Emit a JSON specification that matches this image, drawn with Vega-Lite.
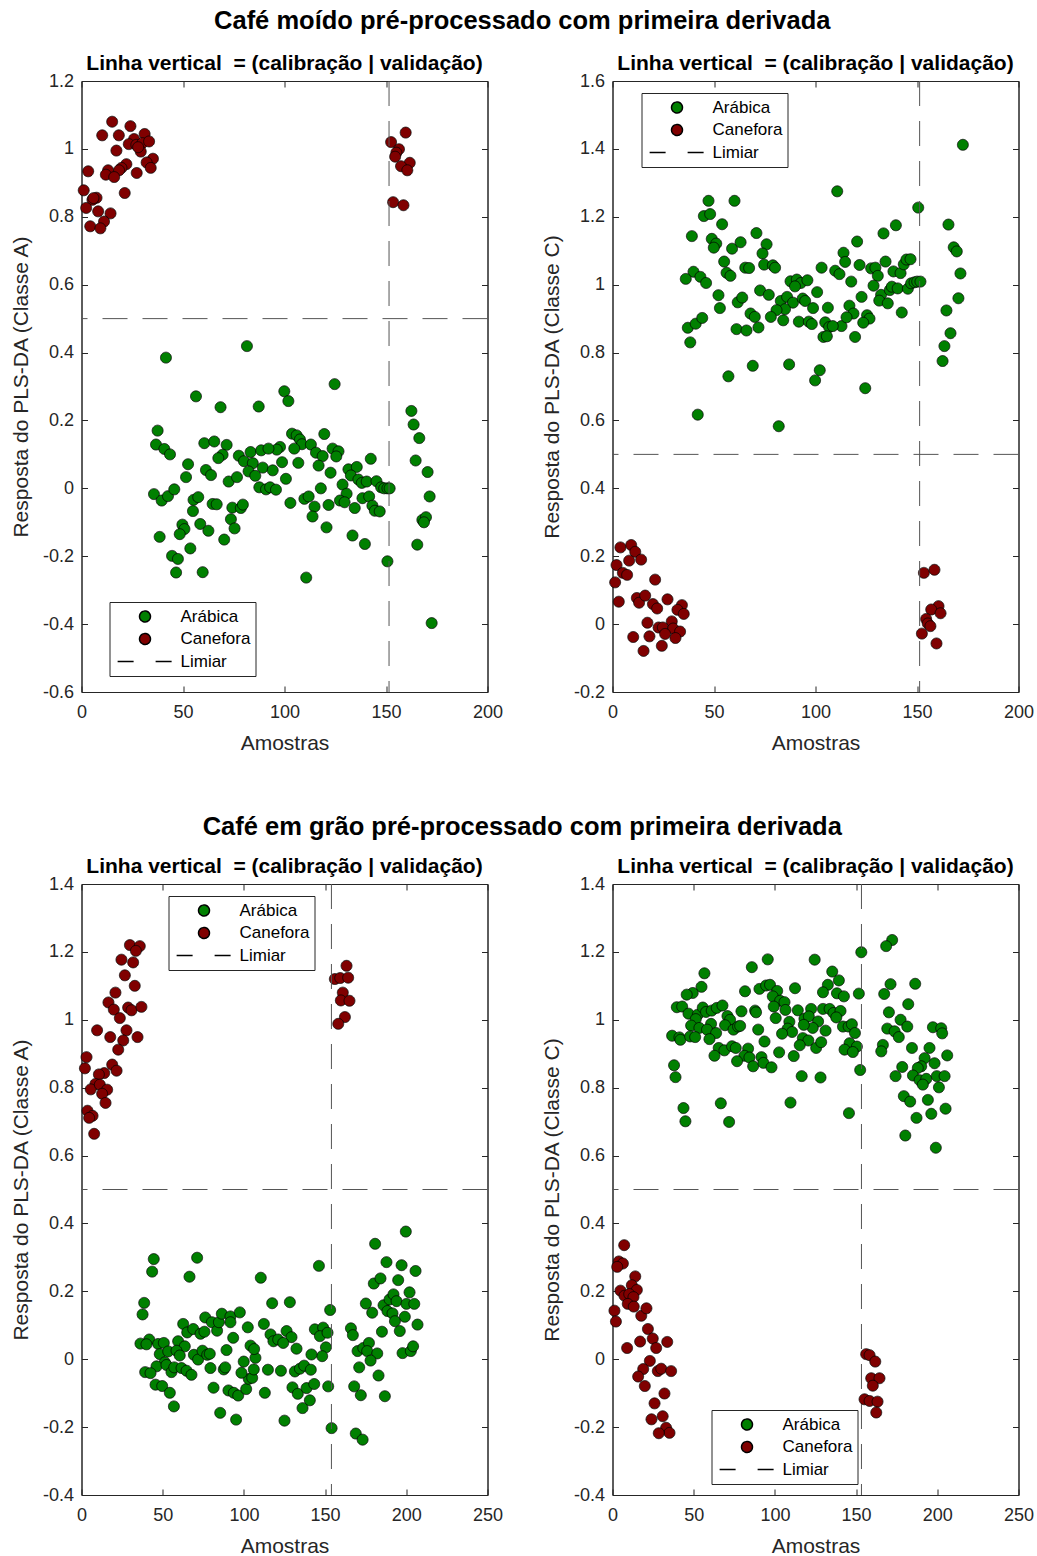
{
  "$schema": "https://vega.github.io/schema/vega-lite/v6.json",
  "background": "white",
  "padding": {"left": 9.5, "top": 9, "right": 0, "bottom": 0},
  "datasets": {
    "moido_A": [
      {"x":81.5,"y":0.419,"classe":"A"},{"x":41.6,"y":0.385,"classe":"A"},{"x":56.4,"y":0.271,"classe":"A"},{"x":68.5,"y":0.239,"classe":"A"},{"x":37.5,"y":0.170,"classe":"A"},{"x":36.7,"y":0.129,"classe":"A"},{"x":40.8,"y":0.116,"classe":"A"},{"x":43.6,"y":0.100,"classe":"A"},{"x":60.5,"y":0.133,"classe":"A"},{"x":65.4,"y":0.138,"classe":"A"},{"x":71.5,"y":0.128,"classe":"A"},{"x":69.5,"y":0.099,"classe":"A"},{"x":67.4,"y":0.089,"classe":"A"},{"x":77.5,"y":0.096,"classe":"A"},{"x":83.3,"y":0.107,"classe":"A"},{"x":80.0,"y":0.080,"classe":"A"},{"x":84.4,"y":0.074,"classe":"A"},{"x":82.3,"y":0.050,"classe":"A"},{"x":85.6,"y":0.037,"classe":"A"},{"x":88.5,"y":0.112,"classe":"A"},{"x":52.5,"y":0.071,"classe":"A"},{"x":51.5,"y":0.033,"classe":"A"},{"x":61.3,"y":0.054,"classe":"A"},{"x":63.8,"y":0.039,"classe":"A"},{"x":72.5,"y":0.020,"classe":"A"},{"x":76.6,"y":0.033,"classe":"A"},{"x":35.7,"y":-0.017,"classe":"A"},{"x":39.5,"y":-0.036,"classe":"A"},{"x":42.6,"y":-0.023,"classe":"A"},{"x":45.7,"y":-0.003,"classe":"A"},{"x":55.2,"y":-0.034,"classe":"A"},{"x":57.5,"y":-0.026,"classe":"A"},{"x":54.9,"y":-0.067,"classe":"A"},{"x":64.6,"y":-0.046,"classe":"A"},{"x":66.6,"y":-0.047,"classe":"A"},{"x":74.3,"y":-0.057,"classe":"A"},{"x":78.5,"y":-0.058,"classe":"A"},{"x":79.5,"y":-0.048,"classe":"A"},{"x":73.6,"y":-0.091,"classe":"A"},{"x":75.4,"y":-0.118,"classe":"A"},{"x":49.7,"y":-0.107,"classe":"A"},{"x":50.7,"y":-0.120,"classe":"A"},{"x":48.4,"y":-0.135,"classe":"A"},{"x":58.5,"y":-0.105,"classe":"A"},{"x":62.5,"y":-0.125,"classe":"A"},{"x":70.3,"y":-0.151,"classe":"A"},{"x":38.5,"y":-0.143,"classe":"A"},{"x":53.6,"y":-0.177,"classe":"A"},{"x":44.6,"y":-0.199,"classe":"A"},{"x":47.5,"y":-0.208,"classe":"A"},{"x":46.6,"y":-0.248,"classe":"A"},{"x":59.7,"y":-0.247,"classe":"A"},
      {"x":124.7,"y":0.307,"classe":"A"},{"x":99.9,"y":0.286,"classe":"A"},{"x":101.9,"y":0.257,"classe":"A"},{"x":87.3,"y":0.241,"classe":"A"},{"x":162.5,"y":0.228,"classe":"A"},{"x":163.6,"y":0.188,"classe":"A"},{"x":166.4,"y":0.148,"classe":"A"},{"x":119.6,"y":0.160,"classe":"A"},{"x":103.7,"y":0.161,"classe":"A"},{"x":106.0,"y":0.156,"classe":"A"},{"x":107.6,"y":0.144,"classe":"A"},{"x":108.6,"y":0.130,"classe":"A"},{"x":113.0,"y":0.129,"classe":"A"},{"x":115.5,"y":0.105,"classe":"A"},{"x":118.8,"y":0.095,"classe":"A"},{"x":123.7,"y":0.117,"classe":"A"},{"x":126.6,"y":0.109,"classe":"A"},{"x":125.5,"y":0.094,"classe":"A"},{"x":104.8,"y":0.117,"classe":"A"},{"x":97.8,"y":0.122,"classe":"A"},{"x":96.2,"y":0.114,"classe":"A"},{"x":92.1,"y":0.117,"classe":"A"},{"x":98.8,"y":0.077,"classe":"A"},{"x":106.8,"y":0.075,"classe":"A"},{"x":116.8,"y":0.067,"classe":"A"},{"x":122.7,"y":0.046,"classe":"A"},{"x":89.3,"y":0.061,"classe":"A"},{"x":94.2,"y":0.053,"classe":"A"},{"x":100.7,"y":0.028,"classe":"A"},{"x":87.6,"y":0.003,"classe":"A"},{"x":90.9,"y":-0.003,"classe":"A"},{"x":92.9,"y":0.003,"classe":"A"},{"x":95.8,"y":-0.004,"classe":"A"},{"x":102.9,"y":-0.043,"classe":"A"},{"x":109.8,"y":-0.031,"classe":"A"},{"x":111.9,"y":-0.024,"classe":"A"},{"x":114.8,"y":-0.054,"classe":"A"},{"x":113.8,"y":-0.083,"classe":"A"},{"x":117.9,"y":0.000,"classe":"A"},{"x":121.7,"y":-0.049,"classe":"A"},{"x":120.7,"y":-0.115,"classe":"A"},{"x":128.6,"y":0.011,"classe":"A"},{"x":130.6,"y":-0.016,"classe":"A"},{"x":127.3,"y":-0.036,"classe":"A"},{"x":129.6,"y":-0.041,"classe":"A"},{"x":131.5,"y":0.056,"classe":"A"},{"x":135.6,"y":0.063,"classe":"A"},{"x":132.7,"y":0.038,"classe":"A"},{"x":136.4,"y":0.026,"classe":"A"},{"x":138.1,"y":0.016,"classe":"A"},{"x":140.5,"y":0.020,"classe":"A"},{"x":142.5,"y":0.087,"classe":"A"},{"x":145.3,"y":0.021,"classe":"A"},{"x":147.6,"y":0.003,"classe":"A"},{"x":149.1,"y":0.000,"classe":"A"},{"x":150.7,"y":0.000,"classe":"A"},{"x":151.8,"y":0.000,"classe":"A"},{"x":134.6,"y":-0.058,"classe":"A"},{"x":138.4,"y":-0.029,"classe":"A"},{"x":141.7,"y":-0.024,"classe":"A"},{"x":143.3,"y":-0.051,"classe":"A"},{"x":144.5,"y":-0.066,"classe":"A"},{"x":146.9,"y":-0.068,"classe":"A"},{"x":133.5,"y":-0.139,"classe":"A"},{"x":139.6,"y":-0.164,"classe":"A"},{"x":150.7,"y":-0.215,"classe":"A"},{"x":110.7,"y":-0.263,"classe":"A"},{"x":164.6,"y":0.082,"classe":"A"},{"x":170.5,"y":0.048,"classe":"A"},{"x":171.5,"y":-0.024,"classe":"A"},{"x":167.9,"y":-0.093,"classe":"A"},{"x":169.7,"y":-0.085,"classe":"A"},{"x":168.7,"y":-0.100,"classe":"A"},{"x":165.4,"y":-0.166,"classe":"A"},{"x":172.5,"y":-0.397,"classe":"A"},
      {"x":15.1,"y":1.080,"classe":"C"},{"x":24.1,"y":1.067,"classe":"C"},{"x":10.2,"y":1.040,"classe":"C"},{"x":18.4,"y":1.040,"classe":"C"},{"x":31.1,"y":1.044,"classe":"C"},{"x":25.9,"y":1.029,"classe":"C"},{"x":23.3,"y":1.014,"classe":"C"},{"x":27.0,"y":1.012,"classe":"C"},{"x":30.0,"y":1.017,"classe":"C"},{"x":33.3,"y":1.022,"classe":"C"},{"x":29.2,"y":0.992,"classe":"C"},{"x":17.2,"y":0.995,"classe":"C"},{"x":27.9,"y":1.005,"classe":"C"},{"x":35.2,"y":0.971,"classe":"C"},{"x":32.1,"y":0.960,"classe":"C"},{"x":34.1,"y":0.944,"classe":"C"},{"x":22.1,"y":0.955,"classe":"C"},{"x":19.7,"y":0.944,"classe":"C"},{"x":18.5,"y":0.937,"classe":"C"},{"x":13.1,"y":0.937,"classe":"C"},{"x":12.0,"y":0.924,"classe":"C"},{"x":16.1,"y":0.917,"classe":"C"},{"x":27.2,"y":0.929,"classe":"C"},{"x":3.3,"y":0.934,"classe":"C"},{"x":1.1,"y":0.878,"classe":"C"},{"x":21.3,"y":0.870,"classe":"C"},{"x":7.4,"y":0.856,"classe":"C"},{"x":5.4,"y":0.850,"classe":"C"},{"x":5.9,"y":0.855,"classe":"C"},{"x":2.3,"y":0.826,"classe":"C"},{"x":8.2,"y":0.816,"classe":"C"},{"x":14.3,"y":0.810,"classe":"C"},{"x":11.1,"y":0.786,"classe":"C"},{"x":4.3,"y":0.772,"classe":"C"},{"x":9.3,"y":0.766,"classe":"C"},
      {"x":159.7,"y":1.048,"classe":"C"},{"x":152.5,"y":1.020,"classe":"C"},{"x":156.4,"y":0.999,"classe":"C"},{"x":155.1,"y":0.989,"classe":"C"},{"x":154.5,"y":0.977,"classe":"C"},{"x":161.7,"y":0.959,"classe":"C"},{"x":157.4,"y":0.949,"classe":"C"},{"x":160.5,"y":0.937,"classe":"C"},{"x":153.5,"y":0.843,"classe":"C"},{"x":158.6,"y":0.834,"classe":"C"}
    ],
    "moido_C": [
      {"x":47.3,"y":1.247,"classe":"A"},{"x":60.1,"y":1.247,"classe":"A"},{"x":45.0,"y":1.202,"classe":"A"},{"x":48.1,"y":1.208,"classe":"A"},{"x":54.0,"y":1.178,"classe":"A"},{"x":39.1,"y":1.143,"classe":"A"},{"x":70.9,"y":1.152,"classe":"A"},{"x":48.9,"y":1.135,"classe":"A"},{"x":51.1,"y":1.121,"classe":"A"},{"x":49.9,"y":1.109,"classe":"A"},{"x":58.9,"y":1.106,"classe":"A"},{"x":63.1,"y":1.125,"classe":"A"},{"x":75.9,"y":1.119,"classe":"A"},{"x":73.9,"y":1.092,"classe":"A"},{"x":55.0,"y":1.068,"classe":"A"},{"x":56.2,"y":1.035,"classe":"A"},{"x":58.1,"y":1.026,"classe":"A"},{"x":65.4,"y":1.050,"classe":"A"},{"x":67.3,"y":1.049,"classe":"A"},{"x":74.7,"y":1.059,"classe":"A"},{"x":79.0,"y":1.057,"classe":"A"},{"x":80.1,"y":1.050,"classe":"A"},{"x":103.0,"y":1.050,"classe":"A"},{"x":39.9,"y":1.038,"classe":"A"},{"x":36.1,"y":1.017,"classe":"A"},{"x":43.3,"y":1.023,"classe":"A"},{"x":46.1,"y":1.005,"classe":"A"},{"x":52.2,"y":0.969,"classe":"A"},{"x":52.9,"y":0.931,"classe":"A"},{"x":61.7,"y":0.948,"classe":"A"},{"x":63.9,"y":0.962,"classe":"A"},{"x":72.7,"y":0.983,"classe":"A"},{"x":77.0,"y":0.970,"classe":"A"},{"x":82.9,"y":0.952,"classe":"A"},{"x":86.0,"y":0.964,"classe":"A"},{"x":88.9,"y":0.947,"classe":"A"},{"x":85.0,"y":0.928,"classe":"A"},{"x":80.8,"y":0.925,"classe":"A"},{"x":78.0,"y":0.905,"classe":"A"},{"x":84.1,"y":0.895,"classe":"A"},{"x":87.7,"y":1.010,"classe":"A"},{"x":90.8,"y":1.015,"classe":"A"},{"x":92.8,"y":1.005,"classe":"A"},{"x":96.0,"y":1.013,"classe":"A"},{"x":89.9,"y":0.995,"classe":"A"},{"x":93.7,"y":0.959,"classe":"A"},{"x":94.9,"y":0.952,"classe":"A"},{"x":100.8,"y":0.978,"classe":"A"},{"x":98.8,"y":0.931,"classe":"A"},{"x":106.1,"y":0.932,"classe":"A"},{"x":91.8,"y":0.891,"classe":"A"},{"x":96.7,"y":0.891,"classe":"A"},{"x":98.2,"y":0.884,"classe":"A"},{"x":104.8,"y":0.889,"classe":"A"},{"x":106.7,"y":0.875,"classe":"A"},{"x":103.9,"y":0.846,"classe":"A"},{"x":105.6,"y":0.848,"classe":"A"},{"x":68.0,"y":0.915,"classe":"A"},{"x":70.1,"y":0.905,"classe":"A"},{"x":71.9,"y":0.874,"classe":"A"},{"x":61.1,"y":0.869,"classe":"A"},{"x":66.0,"y":0.865,"classe":"A"},{"x":37.1,"y":0.873,"classe":"A"},{"x":41.0,"y":0.885,"classe":"A"},{"x":44.2,"y":0.902,"classe":"A"},{"x":38.3,"y":0.830,"classe":"A"},{"x":69.1,"y":0.761,"classe":"A"},{"x":87.0,"y":0.765,"classe":"A"},{"x":57.1,"y":0.730,"classe":"A"},{"x":102.1,"y":0.748,"classe":"A"},{"x":99.8,"y":0.718,"classe":"A"},{"x":42.0,"y":0.617,"classe":"A"},{"x":81.9,"y":0.583,"classe":"A"},
      {"x":172.6,"y":1.412,"classe":"A"},{"x":110.7,"y":1.275,"classe":"A"},{"x":150.6,"y":1.227,"classe":"A"},{"x":165.5,"y":1.177,"classe":"A"},{"x":139.6,"y":1.175,"classe":"A"},{"x":133.5,"y":1.151,"classe":"A"},{"x":120.5,"y":1.127,"classe":"A"},{"x":113.8,"y":1.094,"classe":"A"},{"x":114.6,"y":1.067,"classe":"A"},{"x":121.7,"y":1.058,"classe":"A"},{"x":109.7,"y":1.041,"classe":"A"},{"x":111.8,"y":1.031,"classe":"A"},{"x":117.6,"y":1.009,"classe":"A"},{"x":127.4,"y":1.048,"classe":"A"},{"x":129.5,"y":1.050,"classe":"A"},{"x":130.7,"y":1.026,"classe":"A"},{"x":134.5,"y":1.068,"classe":"A"},{"x":138.4,"y":1.039,"classe":"A"},{"x":141.9,"y":1.034,"classe":"A"},{"x":143.5,"y":1.060,"classe":"A"},{"x":144.8,"y":1.074,"classe":"A"},{"x":146.8,"y":1.075,"classe":"A"},{"x":128.6,"y":0.997,"classe":"A"},{"x":132.3,"y":0.970,"classe":"A"},{"x":131.4,"y":0.953,"classe":"A"},{"x":135.6,"y":0.945,"classe":"A"},{"x":136.6,"y":0.984,"classe":"A"},{"x":137.6,"y":0.994,"classe":"A"},{"x":140.5,"y":0.989,"classe":"A"},{"x":145.5,"y":0.988,"classe":"A"},{"x":147.1,"y":1.004,"classe":"A"},{"x":148.8,"y":1.007,"classe":"A"},{"x":150.1,"y":1.009,"classe":"A"},{"x":151.7,"y":1.009,"classe":"A"},{"x":142.5,"y":0.918,"classe":"A"},{"x":122.7,"y":0.964,"classe":"A"},{"x":116.7,"y":0.938,"classe":"A"},{"x":118.7,"y":0.915,"classe":"A"},{"x":125.4,"y":0.910,"classe":"A"},{"x":126.6,"y":0.900,"classe":"A"},{"x":123.5,"y":0.888,"classe":"A"},{"x":112.8,"y":0.878,"classe":"A"},{"x":115.3,"y":0.904,"classe":"A"},{"x":108.5,"y":0.878,"classe":"A"},{"x":119.5,"y":0.846,"classe":"A"},{"x":124.5,"y":0.695,"classe":"A"},{"x":168.1,"y":1.110,"classe":"A"},{"x":169.6,"y":1.098,"classe":"A"},{"x":171.4,"y":1.033,"classe":"A"},{"x":170.4,"y":0.960,"classe":"A"},{"x":164.5,"y":0.924,"classe":"A"},{"x":166.5,"y":0.857,"classe":"A"},{"x":163.5,"y":0.819,"classe":"A"},{"x":162.6,"y":0.775,"classe":"A"},
      {"x":3.9,"y":0.226,"classe":"C"},{"x":9.2,"y":0.233,"classe":"C"},{"x":11.2,"y":0.213,"classe":"C"},{"x":8.2,"y":0.187,"classe":"C"},{"x":14.1,"y":0.190,"classe":"C"},{"x":2.0,"y":0.174,"classe":"C"},{"x":5.1,"y":0.151,"classe":"C"},{"x":7.2,"y":0.145,"classe":"C"},{"x":1.3,"y":0.123,"classe":"C"},{"x":21.0,"y":0.131,"classe":"C"},{"x":3.1,"y":0.066,"classe":"C"},{"x":12.0,"y":0.077,"classe":"C"},{"x":13.1,"y":0.063,"classe":"C"},{"x":16.1,"y":0.084,"classe":"C"},{"x":19.9,"y":0.059,"classe":"C"},{"x":22.0,"y":0.046,"classe":"C"},{"x":27.1,"y":0.073,"classe":"C"},{"x":34.2,"y":0.056,"classe":"C"},{"x":32.0,"y":0.042,"classe":"C"},{"x":35.1,"y":0.030,"classe":"C"},{"x":17.2,"y":0.004,"classe":"C"},{"x":29.2,"y":0.008,"classe":"C"},{"x":22.7,"y":-0.010,"classe":"C"},{"x":24.8,"y":-0.010,"classe":"C"},{"x":29.9,"y":-0.013,"classe":"C"},{"x":33.3,"y":-0.022,"classe":"C"},{"x":25.9,"y":-0.029,"classe":"C"},{"x":31.0,"y":-0.041,"classe":"C"},{"x":10.2,"y":-0.038,"classe":"C"},{"x":18.2,"y":-0.036,"classe":"C"},{"x":24.3,"y":-0.064,"classe":"C"},{"x":15.3,"y":-0.079,"classe":"C"},
      {"x":153.4,"y":0.151,"classe":"C"},{"x":158.6,"y":0.160,"classe":"C"},{"x":160.6,"y":0.053,"classe":"C"},{"x":157.0,"y":0.043,"classe":"C"},{"x":161.6,"y":0.032,"classe":"C"},{"x":154.5,"y":0.015,"classe":"C"},{"x":155.3,"y":0.002,"classe":"C"},{"x":156.6,"y":-0.006,"classe":"C"},{"x":152.4,"y":-0.028,"classe":"C"},{"x":159.6,"y":-0.057,"classe":"C"}
    ],
    "grao_A": [
      {"x":44.5,"y":0.295,"classe":"A"},{"x":71.2,"y":0.299,"classe":"A"},{"x":43.5,"y":0.258,"classe":"A"},{"x":66.5,"y":0.243,"classe":"A"},{"x":38.6,"y":0.166,"classe":"A"},{"x":37.6,"y":0.132,"classe":"A"},{"x":62.6,"y":0.104,"classe":"A"},{"x":65.1,"y":0.079,"classe":"A"},{"x":68.8,"y":0.089,"classe":"A"},{"x":73.3,"y":0.075,"classe":"A"},{"x":75.7,"y":0.081,"classe":"A"},{"x":76.2,"y":0.123,"classe":"A"},{"x":80.3,"y":0.109,"classe":"A"},{"x":83.5,"y":0.084,"classe":"A"},{"x":84.6,"y":0.109,"classe":"A"},{"x":86.4,"y":0.134,"classe":"A"},{"x":91.7,"y":0.126,"classe":"A"},{"x":91.7,"y":0.109,"classe":"A"},{"x":97.5,"y":0.138,"classe":"A"},{"x":102.4,"y":0.094,"classe":"A"},{"x":93.4,"y":0.063,"classe":"A"},{"x":89.3,"y":0.027,"classe":"A"},{"x":36.3,"y":0.046,"classe":"A"},{"x":41.7,"y":0.058,"classe":"A"},{"x":40.0,"y":0.044,"classe":"A"},{"x":47.2,"y":0.045,"classe":"A"},{"x":50.7,"y":0.048,"classe":"A"},{"x":59.5,"y":0.053,"classe":"A"},{"x":63.6,"y":0.038,"classe":"A"},{"x":48.2,"y":0.015,"classe":"A"},{"x":53.4,"y":0.023,"classe":"A"},{"x":58.5,"y":0.025,"classe":"A"},{"x":60.5,"y":0.011,"classe":"A"},{"x":51.3,"y":-0.009,"classe":"A"},{"x":46.2,"y":-0.021,"classe":"A"},{"x":52.3,"y":-0.017,"classe":"A"},{"x":55.4,"y":-0.038,"classe":"A"},{"x":57.1,"y":-0.024,"classe":"A"},{"x":61.6,"y":-0.026,"classe":"A"},{"x":64.7,"y":-0.034,"classe":"A"},{"x":67.7,"y":-0.046,"classe":"A"},{"x":69.2,"y":0.013,"classe":"A"},{"x":71.8,"y":-0.001,"classe":"A"},{"x":74.5,"y":0.025,"classe":"A"},{"x":77.4,"y":0.013,"classe":"A"},{"x":79.0,"y":0.016,"classe":"A"},{"x":79.4,"y":-0.026,"classe":"A"},{"x":87.6,"y":-0.030,"classe":"A"},{"x":88.5,"y":-0.024,"classe":"A"},{"x":39.2,"y":-0.038,"classe":"A"},{"x":42.5,"y":-0.041,"classe":"A"},{"x":45.6,"y":-0.075,"classe":"A"},{"x":49.7,"y":-0.079,"classe":"A"},{"x":54.4,"y":-0.099,"classe":"A"},{"x":56.9,"y":-0.139,"classe":"A"},{"x":81.3,"y":-0.084,"classe":"A"},{"x":90.5,"y":-0.092,"classe":"A"},{"x":93.8,"y":-0.099,"classe":"A"},{"x":96.5,"y":-0.107,"classe":"A"},{"x":101.4,"y":-0.088,"classe":"A"},{"x":103.0,"y":-0.058,"classe":"A"},{"x":105.1,"y":-0.055,"classe":"A"},{"x":106.1,"y":-0.030,"classe":"A"},{"x":99.9,"y":-0.007,"classe":"A"},{"x":98.5,"y":-0.040,"classe":"A"},{"x":107.1,"y":0.004,"classe":"A"},{"x":104.1,"y":0.040,"classe":"A"},{"x":106.3,"y":0.030,"classe":"A"},{"x":85.4,"y":-0.158,"classe":"A"},{"x":95.2,"y":-0.178,"classe":"A"},
      {"x":199.7,"y":0.376,"classe":"A"},{"x":180.8,"y":0.340,"classe":"A"},{"x":146.2,"y":0.275,"classe":"A"},{"x":110.4,"y":0.240,"classe":"A"},{"x":187.8,"y":0.286,"classe":"A"},{"x":197.1,"y":0.277,"classe":"A"},{"x":205.7,"y":0.260,"classe":"A"},{"x":180.0,"y":0.223,"classe":"A"},{"x":184.1,"y":0.238,"classe":"A"},{"x":195.0,"y":0.233,"classe":"A"},{"x":202.0,"y":0.197,"classe":"A"},{"x":117.4,"y":0.165,"classe":"A"},{"x":128.3,"y":0.168,"classe":"A"},{"x":153.1,"y":0.145,"classe":"A"},{"x":175.1,"y":0.164,"classe":"A"},{"x":179.0,"y":0.137,"classe":"A"},{"x":186.0,"y":0.159,"classe":"A"},{"x":189.7,"y":0.176,"classe":"A"},{"x":192.1,"y":0.191,"classe":"A"},{"x":194.0,"y":0.171,"classe":"A"},{"x":200.1,"y":0.163,"classe":"A"},{"x":204.9,"y":0.163,"classe":"A"},{"x":188.4,"y":0.142,"classe":"A"},{"x":191.5,"y":0.135,"classe":"A"},{"x":199.1,"y":0.125,"classe":"A"},{"x":193.0,"y":0.112,"classe":"A"},{"x":206.9,"y":0.102,"classe":"A"},{"x":196.0,"y":0.083,"classe":"A"},{"x":185.0,"y":0.081,"classe":"A"},{"x":112.3,"y":0.104,"classe":"A"},{"x":116.4,"y":0.073,"classe":"A"},{"x":126.3,"y":0.083,"classe":"A"},{"x":129.3,"y":0.065,"classe":"A"},{"x":118.2,"y":0.053,"classe":"A"},{"x":121.1,"y":0.058,"classe":"A"},{"x":132.4,"y":0.031,"classe":"A"},{"x":124.2,"y":0.048,"classe":"A"},{"x":143.7,"y":0.088,"classe":"A"},{"x":148.8,"y":0.093,"classe":"A"},{"x":146.8,"y":0.068,"classe":"A"},{"x":151.5,"y":0.078,"classe":"A"},{"x":150.5,"y":0.035,"classe":"A"},{"x":148.2,"y":0.009,"classe":"A"},{"x":141.6,"y":0.014,"classe":"A"},{"x":165.9,"y":0.091,"classe":"A"},{"x":167.1,"y":0.071,"classe":"A"},{"x":170.0,"y":0.024,"classe":"A"},{"x":173.5,"y":0.033,"classe":"A"},{"x":177.0,"y":0.048,"classe":"A"},{"x":175.9,"y":0.024,"classe":"A"},{"x":182.1,"y":0.017,"classe":"A"},{"x":178.0,"y":-0.004,"classe":"A"},{"x":171.0,"y":-0.024,"classe":"A"},{"x":197.7,"y":0.018,"classe":"A"},{"x":202.8,"y":0.024,"classe":"A"},{"x":204.2,"y":0.038,"classe":"A"},{"x":114.8,"y":-0.031,"classe":"A"},{"x":122.8,"y":-0.034,"classe":"A"},{"x":131.4,"y":-0.036,"classe":"A"},{"x":134.5,"y":-0.028,"classe":"A"},{"x":137.1,"y":-0.019,"classe":"A"},{"x":141.2,"y":-0.031,"classe":"A"},{"x":182.9,"y":-0.048,"classe":"A"},{"x":112.9,"y":-0.099,"classe":"A"},{"x":129.9,"y":-0.083,"classe":"A"},{"x":133.2,"y":-0.102,"classe":"A"},{"x":138.6,"y":-0.085,"classe":"A"},{"x":143.3,"y":-0.073,"classe":"A"},{"x":151.9,"y":-0.080,"classe":"A"},{"x":140.6,"y":-0.121,"classe":"A"},{"x":136.1,"y":-0.144,"classe":"A"},{"x":167.9,"y":-0.080,"classe":"A"},{"x":172.0,"y":-0.106,"classe":"A"},{"x":186.8,"y":-0.109,"classe":"A"},{"x":125.0,"y":-0.181,"classe":"A"},{"x":154.0,"y":-0.203,"classe":"A"},{"x":168.9,"y":-0.219,"classe":"A"},{"x":173.1,"y":-0.237,"classe":"A"},
      {"x":29.8,"y":1.220,"classe":"C"},{"x":35.9,"y":1.217,"classe":"C"},{"x":33.5,"y":1.203,"classe":"C"},{"x":24.6,"y":1.177,"classe":"C"},{"x":31.8,"y":1.169,"classe":"C"},{"x":26.7,"y":1.131,"classe":"C"},{"x":32.8,"y":1.100,"classe":"C"},{"x":20.9,"y":1.080,"classe":"C"},{"x":16.6,"y":1.051,"classe":"C"},{"x":19.9,"y":1.030,"classe":"C"},{"x":28.7,"y":1.036,"classe":"C"},{"x":30.8,"y":1.028,"classe":"C"},{"x":36.9,"y":1.038,"classe":"C"},{"x":23.6,"y":1.005,"classe":"C"},{"x":9.6,"y":0.969,"classe":"C"},{"x":17.7,"y":0.949,"classe":"C"},{"x":27.7,"y":0.969,"classe":"C"},{"x":25.7,"y":0.939,"classe":"C"},{"x":34.5,"y":0.949,"classe":"C"},{"x":22.6,"y":0.912,"classe":"C"},{"x":3.1,"y":0.890,"classe":"C"},{"x":2.1,"y":0.857,"classe":"C"},{"x":18.9,"y":0.868,"classe":"C"},{"x":21.6,"y":0.850,"classe":"C"},{"x":14.0,"y":0.843,"classe":"C"},{"x":10.7,"y":0.839,"classe":"C"},{"x":8.6,"y":0.811,"classe":"C"},{"x":5.7,"y":0.795,"classe":"C"},{"x":11.3,"y":0.809,"classe":"C"},{"x":15.8,"y":0.794,"classe":"C"},{"x":12.7,"y":0.782,"classe":"C"},{"x":14.8,"y":0.755,"classe":"C"},{"x":3.7,"y":0.732,"classe":"C"},{"x":6.8,"y":0.717,"classe":"C"},{"x":4.7,"y":0.711,"classe":"C"},{"x":7.8,"y":0.664,"classe":"C"},
      {"x":163.2,"y":1.159,"classe":"C"},{"x":156.0,"y":1.120,"classe":"C"},{"x":159.3,"y":1.123,"classe":"C"},{"x":164.2,"y":1.124,"classe":"C"},{"x":160.9,"y":1.080,"classe":"C"},{"x":159.7,"y":1.057,"classe":"C"},{"x":165.0,"y":1.056,"classe":"C"},{"x":162.2,"y":1.008,"classe":"C"},{"x":158.1,"y":0.988,"classe":"C"}
    ],
    "grao_C": [
      {"x":56.6,"y":1.137,"classe":"A"},{"x":54.8,"y":1.097,"classe":"A"},{"x":49.4,"y":1.079,"classe":"A"},{"x":45.7,"y":1.074,"classe":"A"},{"x":85.8,"y":1.155,"classe":"A"},{"x":95.6,"y":1.178,"classe":"A"},{"x":124.5,"y":1.177,"classe":"A"},{"x":81.6,"y":1.084,"classe":"A"},{"x":90.5,"y":1.091,"classe":"A"},{"x":94.6,"y":1.101,"classe":"A"},{"x":97.0,"y":1.103,"classe":"A"},{"x":101.4,"y":1.085,"classe":"A"},{"x":112.4,"y":1.093,"classe":"A"},{"x":98.7,"y":1.069,"classe":"A"},{"x":103.2,"y":1.056,"classe":"A"},{"x":105.9,"y":1.052,"classe":"A"},{"x":99.3,"y":1.039,"classe":"A"},{"x":106.5,"y":1.029,"classe":"A"},{"x":114.1,"y":1.028,"classe":"A"},{"x":122.3,"y":1.032,"classe":"A"},{"x":39.6,"y":1.037,"classe":"A"},{"x":42.9,"y":1.039,"classe":"A"},{"x":46.8,"y":1.018,"classe":"A"},{"x":52.5,"y":1.015,"classe":"A"},{"x":55.6,"y":1.036,"classe":"A"},{"x":57.6,"y":1.023,"classe":"A"},{"x":61.1,"y":1.027,"classe":"A"},{"x":64.2,"y":1.035,"classe":"A"},{"x":67.7,"y":1.042,"classe":"A"},{"x":70.8,"y":1.011,"classe":"A"},{"x":72.4,"y":1.000,"classe":"A"},{"x":79.4,"y":1.025,"classe":"A"},{"x":87.8,"y":1.027,"classe":"A"},{"x":88.4,"y":1.022,"classe":"A"},{"x":51.3,"y":1.002,"classe":"A"},{"x":48.4,"y":0.983,"classe":"A"},{"x":53.5,"y":0.976,"classe":"A"},{"x":60.7,"y":0.988,"classe":"A"},{"x":58.2,"y":0.971,"classe":"A"},{"x":63.8,"y":0.961,"classe":"A"},{"x":69.3,"y":0.984,"classe":"A"},{"x":74.5,"y":0.971,"classe":"A"},{"x":77.3,"y":0.980,"classe":"A"},{"x":78.6,"y":0.982,"classe":"A"},{"x":89.7,"y":0.971,"classe":"A"},{"x":100.5,"y":1.005,"classe":"A"},{"x":108.9,"y":0.994,"classe":"A"},{"x":107.9,"y":0.974,"classe":"A"},{"x":110.6,"y":0.964,"classe":"A"},{"x":104.4,"y":0.959,"classe":"A"},{"x":118.2,"y":1.003,"classe":"A"},{"x":120.9,"y":1.010,"classe":"A"},{"x":126.6,"y":0.995,"classe":"A"},{"x":123.3,"y":0.976,"classe":"A"},{"x":117.8,"y":0.985,"classe":"A"},{"x":36.7,"y":0.953,"classe":"A"},{"x":41.2,"y":0.948,"classe":"A"},{"x":41.8,"y":0.941,"classe":"A"},{"x":47.8,"y":0.951,"classe":"A"},{"x":50.9,"y":0.949,"classe":"A"},{"x":59.7,"y":0.943,"classe":"A"},{"x":93.6,"y":0.936,"classe":"A"},{"x":117.2,"y":0.946,"classe":"A"},{"x":120.6,"y":0.939,"classe":"A"},{"x":115.3,"y":0.925,"classe":"A"},{"x":125.4,"y":0.917,"classe":"A"},{"x":65.4,"y":0.917,"classe":"A"},{"x":68.9,"y":0.910,"classe":"A"},{"x":62.8,"y":0.894,"classe":"A"},{"x":73.6,"y":0.922,"classe":"A"},{"x":75.9,"y":0.917,"classe":"A"},{"x":83.5,"y":0.915,"classe":"A"},{"x":81.2,"y":0.894,"classe":"A"},{"x":84.3,"y":0.889,"classe":"A"},{"x":76.7,"y":0.878,"classe":"A"},{"x":86.6,"y":0.863,"classe":"A"},{"x":91.7,"y":0.890,"classe":"A"},{"x":92.9,"y":0.873,"classe":"A"},{"x":97.9,"y":0.860,"classe":"A"},{"x":102.6,"y":0.904,"classe":"A"},{"x":111.6,"y":0.893,"classe":"A"},{"x":37.9,"y":0.866,"classe":"A"},{"x":38.8,"y":0.831,"classe":"A"},{"x":116.5,"y":0.834,"classe":"A"},{"x":43.7,"y":0.740,"classe":"A"},{"x":44.9,"y":0.701,"classe":"A"},{"x":66.7,"y":0.754,"classe":"A"},{"x":71.8,"y":0.699,"classe":"A"},{"x":109.6,"y":0.756,"classe":"A"},
      {"x":172.2,"y":1.235,"classe":"A"},{"x":168.5,"y":1.217,"classe":"A"},{"x":153.2,"y":1.199,"classe":"A"},{"x":135.3,"y":1.142,"classe":"A"},{"x":139.4,"y":1.116,"classe":"A"},{"x":171.2,"y":1.105,"classe":"A"},{"x":186.4,"y":1.106,"classe":"A"},{"x":167.3,"y":1.076,"classe":"A"},{"x":151.7,"y":1.077,"classe":"A"},{"x":132.6,"y":1.103,"classe":"A"},{"x":129.6,"y":1.081,"classe":"A"},{"x":138.2,"y":1.078,"classe":"A"},{"x":142.5,"y":1.069,"classe":"A"},{"x":182.1,"y":1.046,"classe":"A"},{"x":129.6,"y":1.032,"classe":"A"},{"x":133.7,"y":1.032,"classe":"A"},{"x":136.1,"y":1.020,"classe":"A"},{"x":140.4,"y":1.026,"classe":"A"},{"x":137.8,"y":1.007,"classe":"A"},{"x":170.2,"y":1.022,"classe":"A"},{"x":177.4,"y":1.000,"classe":"A"},{"x":181.5,"y":0.980,"classe":"A"},{"x":169.2,"y":0.974,"classe":"A"},{"x":173.7,"y":0.966,"classe":"A"},{"x":176.3,"y":0.949,"classe":"A"},{"x":141.9,"y":0.980,"classe":"A"},{"x":145.4,"y":0.980,"classe":"A"},{"x":147.4,"y":0.987,"classe":"A"},{"x":149.3,"y":0.961,"classe":"A"},{"x":131.2,"y":0.968,"classe":"A"},{"x":128.5,"y":0.934,"classe":"A"},{"x":146.0,"y":0.931,"classe":"A"},{"x":150.5,"y":0.921,"classe":"A"},{"x":166.5,"y":0.926,"classe":"A"},{"x":165.5,"y":0.907,"classe":"A"},{"x":142.9,"y":0.912,"classe":"A"},{"x":148.0,"y":0.905,"classe":"A"},{"x":197.3,"y":0.978,"classe":"A"},{"x":202.4,"y":0.975,"classe":"A"},{"x":203.0,"y":0.960,"classe":"A"},{"x":184.4,"y":0.917,"classe":"A"},{"x":195.2,"y":0.917,"classe":"A"},{"x":206.1,"y":0.895,"classe":"A"},{"x":192.2,"y":0.887,"classe":"A"},{"x":198.3,"y":0.872,"classe":"A"},{"x":190.1,"y":0.863,"classe":"A"},{"x":188.0,"y":0.858,"classe":"A"},{"x":178.4,"y":0.861,"classe":"A"},{"x":174.3,"y":0.834,"classe":"A"},{"x":185.0,"y":0.836,"classe":"A"},{"x":189.1,"y":0.822,"classe":"A"},{"x":193.2,"y":0.826,"classe":"A"},{"x":191.1,"y":0.809,"classe":"A"},{"x":199.7,"y":0.834,"classe":"A"},{"x":204.5,"y":0.834,"classe":"A"},{"x":201.0,"y":0.801,"classe":"A"},{"x":152.5,"y":0.852,"classe":"A"},{"x":128.1,"y":0.830,"classe":"A"},{"x":179.4,"y":0.775,"classe":"A"},{"x":183.3,"y":0.759,"classe":"A"},{"x":194.2,"y":0.764,"classe":"A"},{"x":205.1,"y":0.738,"classe":"A"},{"x":196.3,"y":0.723,"classe":"A"},{"x":187.2,"y":0.711,"classe":"A"},{"x":145.6,"y":0.725,"classe":"A"},{"x":180.3,"y":0.659,"classe":"A"},{"x":199.1,"y":0.623,"classe":"A"},
      {"x":7.2,"y":0.336,"classe":"C"},{"x":3.9,"y":0.288,"classe":"C"},{"x":6.4,"y":0.282,"classe":"C"},{"x":2.9,"y":0.272,"classe":"C"},{"x":14.0,"y":0.244,"classe":"C"},{"x":11.9,"y":0.218,"classe":"C"},{"x":15.0,"y":0.204,"classe":"C"},{"x":4.9,"y":0.202,"classe":"C"},{"x":7.4,"y":0.187,"classe":"C"},{"x":10.3,"y":0.192,"classe":"C"},{"x":12.9,"y":0.183,"classe":"C"},{"x":9.4,"y":0.163,"classe":"C"},{"x":13.1,"y":0.155,"classe":"C"},{"x":17.7,"y":0.128,"classe":"C"},{"x":20.9,"y":0.150,"classe":"C"},{"x":1.2,"y":0.143,"classe":"C"},{"x":2.1,"y":0.111,"classe":"C"},{"x":21.8,"y":0.089,"classe":"C"},{"x":24.8,"y":0.061,"classe":"C"},{"x":26.9,"y":0.033,"classe":"C"},{"x":33.7,"y":0.051,"classe":"C"},{"x":17.0,"y":0.052,"classe":"C"},{"x":9.0,"y":0.033,"classe":"C"},{"x":23.0,"y":-0.005,"classe":"C"},{"x":18.9,"y":-0.029,"classe":"C"},{"x":15.8,"y":-0.051,"classe":"C"},{"x":27.9,"y":-0.035,"classe":"C"},{"x":30.0,"y":-0.028,"classe":"C"},{"x":36.1,"y":-0.035,"classe":"C"},{"x":19.9,"y":-0.079,"classe":"C"},{"x":32.0,"y":-0.101,"classe":"C"},{"x":25.9,"y":-0.130,"classe":"C"},{"x":24.0,"y":-0.177,"classe":"C"},{"x":30.9,"y":-0.168,"classe":"C"},{"x":33.0,"y":-0.202,"classe":"C"},{"x":35.1,"y":-0.217,"classe":"C"},{"x":28.5,"y":-0.218,"classe":"C"},
      {"x":156.2,"y":0.015,"classe":"C"},{"x":158.3,"y":0.012,"classe":"C"},{"x":161.8,"y":-0.007,"classe":"C"},{"x":159.3,"y":-0.056,"classe":"C"},{"x":164.4,"y":-0.056,"classe":"C"},{"x":160.3,"y":-0.078,"classe":"C"},{"x":155.2,"y":-0.118,"classe":"C"},{"x":158.3,"y":-0.123,"classe":"C"},{"x":163.2,"y":-0.125,"classe":"C"},{"x":162.4,"y":-0.157,"classe":"C"}
    ]
  },
  "vconcat": [
    {
      "title": {"text": "Café moído pré-processado com primeira derivada", "fontSize": 25.5, "offset": 18, "anchor": "middle"},
      "spacing": 37,
      "resolve": {"scale": {"color": "independent", "shape": "independent", "size": "independent", "strokeDash": "independent"}, "legend": {"color": "independent", "shape": "independent", "size": "independent", "strokeDash": "independent"}},
      "hconcat": [
        {
          "title": {"text": "Linha vertical\u00a0 = (calibração | validação)", "frame": "group"},
          "width": 406, "height": 611,
          "layer": [
            {"data": {"name": "moido_A"},
             "mark": {"type": "point", "filled": true, "stroke": "black", "strokeWidth": 0.8, "opacity": 1},
             "encoding": {
               "x": {"field": "x", "type": "quantitative", "scale": {"domain": [0, 200], "nice": false, "zero": false}, "axis": {"title": "Amostras", "values": [0, 50, 100, 150, 200]}},
               "y": {"field": "y", "type": "quantitative", "scale": {"domain": [-0.6, 1.2], "nice": false, "zero": false}, "axis": {"title": "Resposta do PLS-DA (Classe A)", "values": [-0.6, -0.4, -0.2, 0, 0.2, 0.4, 0.6, 0.8, 1, 1.2], "labelExpr": "datum.value < 0 ? '-' + format(-datum.value, '~g') : format(datum.value, '~g')"}},
               "color": {"field": "classe", "type": "nominal", "scale": {"domain": ["A", "C", "L"], "range": ["#008000", "#800000", "#262626"]},
                 "legend": {"orient": "none", "legendX": 28, "legendY": 521, "title": null, "columns": 1, "clipHeight": 19, "rowPadding": 3.5, "padding": 5, "labelOffset": 7, "symbolOffset": 2, "labelFontSize": 17, "labelFont": "Liberation Sans", "labelColor": "black", "fillColor": "white", "strokeColor": "#262626", "labelExpr": "datum.label === 'A' ? 'Arábica' : datum.label === 'C' ? 'Canefora' : 'Limiar'"}},
               "shape": {"field": "classe", "type": "nominal", "scale": {"domain": ["A", "C", "L"], "range": ["circle", "circle", "stroke"]},
                 "legend": {"orient": "none", "legendX": 28, "legendY": 521, "title": null, "columns": 1, "clipHeight": 19, "rowPadding": 3.5, "padding": 5, "labelOffset": 7, "symbolOffset": 2, "labelFontSize": 17, "labelFont": "Liberation Sans", "labelColor": "black", "fillColor": "white", "strokeColor": "#262626", "labelExpr": "datum.label === 'A' ? 'Arábica' : datum.label === 'C' ? 'Canefora' : 'Limiar'"}},
               "size": {"field": "classe", "type": "nominal", "scale": {"type": "ordinal", "domain": ["A", "C", "L"], "range": [120, 120, 3000]},
                 "legend": {"orient": "none", "legendX": 28, "legendY": 521, "title": null, "columns": 1, "clipHeight": 19, "rowPadding": 3.5, "padding": 5, "labelOffset": 7, "symbolOffset": 2, "labelFontSize": 17, "labelFont": "Liberation Sans", "labelColor": "black", "fillColor": "white", "strokeColor": "#262626", "labelExpr": "datum.label === 'A' ? 'Arábica' : datum.label === 'C' ? 'Canefora' : 'Limiar'"}},
               "strokeDash": {"field": "classe", "type": "nominal", "scale": {"domain": ["A", "C", "L"], "range": [[1, 0], [1, 0], [16, 22]]},
                 "legend": {"orient": "none", "legendX": 28, "legendY": 521, "title": null, "columns": 1, "clipHeight": 19, "rowPadding": 3.5, "padding": 5, "labelOffset": 7, "symbolOffset": 2, "labelFontSize": 17, "labelFont": "Liberation Sans", "labelColor": "black", "fillColor": "white", "strokeColor": "#262626", "labelExpr": "datum.label === 'A' ? 'Arábica' : datum.label === 'C' ? 'Canefora' : 'Limiar'"}}
             }},
            {"data": {"values": [{"limiar": 0.5}]},
             "mark": {"type": "rule", "color": "#555555", "strokeWidth": 1, "strokeDash": [25, 15]},
             "encoding": {"y": {"field": "limiar", "type": "quantitative", "axis": {"orient": "right", "labels": false, "title": null, "values": [-0.6, -0.4, -0.2, 0, 0.2, 0.4, 0.6, 0.8, 1, 1.2]}}}},
            {"data": {"values": [{"limiar": 151.5}]},
             "mark": {"type": "rule", "color": "#555555", "strokeWidth": 1, "strokeDash": [25, 15]},
             "encoding": {"x": {"field": "limiar", "type": "quantitative", "axis": {"orient": "top", "labels": false, "title": null, "values": [0, 50, 100, 150, 200]}}}}
          ],
          "resolve": {"axis": {"x": "independent", "y": "independent"}}
        },
        {
          "title": {"text": "Linha vertical\u00a0 = (calibração | validação)", "frame": "group"},
          "width": 406, "height": 611,
          "layer": [
            {"data": {"name": "moido_C"},
             "mark": {"type": "point", "filled": true, "stroke": "black", "strokeWidth": 0.8, "opacity": 1},
             "encoding": {
               "x": {"field": "x", "type": "quantitative", "scale": {"domain": [0, 200], "nice": false, "zero": false}, "axis": {"title": "Amostras", "values": [0, 50, 100, 150, 200]}},
               "y": {"field": "y", "type": "quantitative", "scale": {"domain": [-0.2, 1.6], "nice": false, "zero": false}, "axis": {"title": "Resposta do PLS-DA (Classe C)", "values": [-0.2, 0, 0.2, 0.4, 0.6, 0.8, 1, 1.2, 1.4, 1.6], "labelExpr": "datum.value < 0 ? '-' + format(-datum.value, '~g') : format(datum.value, '~g')"}},
               "color": {"field": "classe", "type": "nominal", "scale": {"domain": ["A", "C", "L"], "range": ["#008000", "#800000", "#262626"]},
                 "legend": {"orient": "none", "legendX": 29, "legendY": 12, "title": null, "columns": 1, "clipHeight": 19, "rowPadding": 3.5, "padding": 5, "labelOffset": 7, "symbolOffset": 2, "labelFontSize": 17, "labelFont": "Liberation Sans", "labelColor": "black", "fillColor": "white", "strokeColor": "#262626", "labelExpr": "datum.label === 'A' ? 'Arábica' : datum.label === 'C' ? 'Canefora' : 'Limiar'"}},
               "shape": {"field": "classe", "type": "nominal", "scale": {"domain": ["A", "C", "L"], "range": ["circle", "circle", "stroke"]},
                 "legend": {"orient": "none", "legendX": 29, "legendY": 12, "title": null, "columns": 1, "clipHeight": 19, "rowPadding": 3.5, "padding": 5, "labelOffset": 7, "symbolOffset": 2, "labelFontSize": 17, "labelFont": "Liberation Sans", "labelColor": "black", "fillColor": "white", "strokeColor": "#262626", "labelExpr": "datum.label === 'A' ? 'Arábica' : datum.label === 'C' ? 'Canefora' : 'Limiar'"}},
               "size": {"field": "classe", "type": "nominal", "scale": {"type": "ordinal", "domain": ["A", "C", "L"], "range": [120, 120, 3000]},
                 "legend": {"orient": "none", "legendX": 29, "legendY": 12, "title": null, "columns": 1, "clipHeight": 19, "rowPadding": 3.5, "padding": 5, "labelOffset": 7, "symbolOffset": 2, "labelFontSize": 17, "labelFont": "Liberation Sans", "labelColor": "black", "fillColor": "white", "strokeColor": "#262626", "labelExpr": "datum.label === 'A' ? 'Arábica' : datum.label === 'C' ? 'Canefora' : 'Limiar'"}},
               "strokeDash": {"field": "classe", "type": "nominal", "scale": {"domain": ["A", "C", "L"], "range": [[1, 0], [1, 0], [16, 22]]},
                 "legend": {"orient": "none", "legendX": 29, "legendY": 12, "title": null, "columns": 1, "clipHeight": 19, "rowPadding": 3.5, "padding": 5, "labelOffset": 7, "symbolOffset": 2, "labelFontSize": 17, "labelFont": "Liberation Sans", "labelColor": "black", "fillColor": "white", "strokeColor": "#262626", "labelExpr": "datum.label === 'A' ? 'Arábica' : datum.label === 'C' ? 'Canefora' : 'Limiar'"}}
             }},
            {"data": {"values": [{"limiar": 0.5}]},
             "mark": {"type": "rule", "color": "#555555", "strokeWidth": 1, "strokeDash": [25, 15]},
             "encoding": {"y": {"field": "limiar", "type": "quantitative", "axis": {"orient": "right", "labels": false, "title": null, "values": [-0.2, 0, 0.2, 0.4, 0.6, 0.8, 1, 1.2, 1.4, 1.6]}}}},
            {"data": {"values": [{"limiar": 151.3}]},
             "mark": {"type": "rule", "color": "#555555", "strokeWidth": 1, "strokeDash": [25, 15]},
             "encoding": {"x": {"field": "limiar", "type": "quantitative", "axis": {"orient": "top", "labels": false, "title": null, "values": [0, 50, 100, 150, 200]}}}}
          ],
          "resolve": {"axis": {"x": "independent", "y": "independent"}}
        }
      ]
    },
    {
      "title": {"text": "Café em grão pré-processado com primeira derivada", "fontSize": 25.5, "offset": 15, "anchor": "middle"},
      "spacing": 37,
      "resolve": {"scale": {"color": "independent", "shape": "independent", "size": "independent", "strokeDash": "independent"}, "legend": {"color": "independent", "shape": "independent", "size": "independent", "strokeDash": "independent"}},
      "hconcat": [
        {
          "title": {"text": "Linha vertical\u00a0 = (calibração | validação)", "frame": "group"},
          "width": 406, "height": 611,
          "layer": [
            {"data": {"name": "grao_A"},
             "mark": {"type": "point", "filled": true, "stroke": "black", "strokeWidth": 0.8, "opacity": 1},
             "encoding": {
               "x": {"field": "x", "type": "quantitative", "scale": {"domain": [0, 250], "nice": false, "zero": false}, "axis": {"title": "Amostras", "values": [0, 50, 100, 150, 200, 250]}},
               "y": {"field": "y", "type": "quantitative", "scale": {"domain": [-0.4, 1.4], "nice": false, "zero": false}, "axis": {"title": "Resposta do PLS-DA (Classe A)", "values": [-0.4, -0.2, 0, 0.2, 0.4, 0.6, 0.8, 1, 1.2, 1.4], "labelExpr": "datum.value < 0 ? '-' + format(-datum.value, '~g') : format(datum.value, '~g')"}},
               "color": {"field": "classe", "type": "nominal", "scale": {"domain": ["A", "C", "L"], "range": ["#008000", "#800000", "#262626"]},
                 "legend": {"orient": "none", "legendX": 87, "legendY": 12, "title": null, "columns": 1, "clipHeight": 19, "rowPadding": 3.5, "padding": 5, "labelOffset": 7, "symbolOffset": 2, "labelFontSize": 17, "labelFont": "Liberation Sans", "labelColor": "black", "fillColor": "white", "strokeColor": "#262626", "labelExpr": "datum.label === 'A' ? 'Arábica' : datum.label === 'C' ? 'Canefora' : 'Limiar'"}},
               "shape": {"field": "classe", "type": "nominal", "scale": {"domain": ["A", "C", "L"], "range": ["circle", "circle", "stroke"]},
                 "legend": {"orient": "none", "legendX": 87, "legendY": 12, "title": null, "columns": 1, "clipHeight": 19, "rowPadding": 3.5, "padding": 5, "labelOffset": 7, "symbolOffset": 2, "labelFontSize": 17, "labelFont": "Liberation Sans", "labelColor": "black", "fillColor": "white", "strokeColor": "#262626", "labelExpr": "datum.label === 'A' ? 'Arábica' : datum.label === 'C' ? 'Canefora' : 'Limiar'"}},
               "size": {"field": "classe", "type": "nominal", "scale": {"type": "ordinal", "domain": ["A", "C", "L"], "range": [120, 120, 3000]},
                 "legend": {"orient": "none", "legendX": 87, "legendY": 12, "title": null, "columns": 1, "clipHeight": 19, "rowPadding": 3.5, "padding": 5, "labelOffset": 7, "symbolOffset": 2, "labelFontSize": 17, "labelFont": "Liberation Sans", "labelColor": "black", "fillColor": "white", "strokeColor": "#262626", "labelExpr": "datum.label === 'A' ? 'Arábica' : datum.label === 'C' ? 'Canefora' : 'Limiar'"}},
               "strokeDash": {"field": "classe", "type": "nominal", "scale": {"domain": ["A", "C", "L"], "range": [[1, 0], [1, 0], [16, 22]]},
                 "legend": {"orient": "none", "legendX": 87, "legendY": 12, "title": null, "columns": 1, "clipHeight": 19, "rowPadding": 3.5, "padding": 5, "labelOffset": 7, "symbolOffset": 2, "labelFontSize": 17, "labelFont": "Liberation Sans", "labelColor": "black", "fillColor": "white", "strokeColor": "#262626", "labelExpr": "datum.label === 'A' ? 'Arábica' : datum.label === 'C' ? 'Canefora' : 'Limiar'"}}
             }},
            {"data": {"values": [{"limiar": 0.5}]},
             "mark": {"type": "rule", "color": "#555555", "strokeWidth": 1, "strokeDash": [25, 15]},
             "encoding": {"y": {"field": "limiar", "type": "quantitative", "axis": {"orient": "right", "labels": false, "title": null, "values": [-0.4, -0.2, 0, 0.2, 0.4, 0.6, 0.8, 1, 1.2, 1.4]}}}},
            {"data": {"values": [{"limiar": 153.9}]},
             "mark": {"type": "rule", "color": "#555555", "strokeWidth": 1, "strokeDash": [25, 15]},
             "encoding": {"x": {"field": "limiar", "type": "quantitative", "axis": {"orient": "top", "labels": false, "title": null, "values": [0, 50, 100, 150, 200, 250]}}}}
          ],
          "resolve": {"axis": {"x": "independent", "y": "independent"}}
        },
        {
          "title": {"text": "Linha vertical\u00a0 = (calibração | validação)", "frame": "group"},
          "width": 406, "height": 611,
          "layer": [
            {"data": {"name": "grao_C"},
             "mark": {"type": "point", "filled": true, "stroke": "black", "strokeWidth": 0.8, "opacity": 1},
             "encoding": {
               "x": {"field": "x", "type": "quantitative", "scale": {"domain": [0, 250], "nice": false, "zero": false}, "axis": {"title": "Amostras", "values": [0, 50, 100, 150, 200, 250]}},
               "y": {"field": "y", "type": "quantitative", "scale": {"domain": [-0.4, 1.4], "nice": false, "zero": false}, "axis": {"title": "Resposta do PLS-DA (Classe C)", "values": [-0.4, -0.2, 0, 0.2, 0.4, 0.6, 0.8, 1, 1.2, 1.4], "labelExpr": "datum.value < 0 ? '-' + format(-datum.value, '~g') : format(datum.value, '~g')"}},
               "color": {"field": "classe", "type": "nominal", "scale": {"domain": ["A", "C", "L"], "range": ["#008000", "#800000", "#262626"]},
                 "legend": {"orient": "none", "legendX": 99, "legendY": 526, "title": null, "columns": 1, "clipHeight": 19, "rowPadding": 3.5, "padding": 5, "labelOffset": 7, "symbolOffset": 2, "labelFontSize": 17, "labelFont": "Liberation Sans", "labelColor": "black", "fillColor": "white", "strokeColor": "#262626", "labelExpr": "datum.label === 'A' ? 'Arábica' : datum.label === 'C' ? 'Canefora' : 'Limiar'"}},
               "shape": {"field": "classe", "type": "nominal", "scale": {"domain": ["A", "C", "L"], "range": ["circle", "circle", "stroke"]},
                 "legend": {"orient": "none", "legendX": 99, "legendY": 526, "title": null, "columns": 1, "clipHeight": 19, "rowPadding": 3.5, "padding": 5, "labelOffset": 7, "symbolOffset": 2, "labelFontSize": 17, "labelFont": "Liberation Sans", "labelColor": "black", "fillColor": "white", "strokeColor": "#262626", "labelExpr": "datum.label === 'A' ? 'Arábica' : datum.label === 'C' ? 'Canefora' : 'Limiar'"}},
               "size": {"field": "classe", "type": "nominal", "scale": {"type": "ordinal", "domain": ["A", "C", "L"], "range": [120, 120, 3000]},
                 "legend": {"orient": "none", "legendX": 99, "legendY": 526, "title": null, "columns": 1, "clipHeight": 19, "rowPadding": 3.5, "padding": 5, "labelOffset": 7, "symbolOffset": 2, "labelFontSize": 17, "labelFont": "Liberation Sans", "labelColor": "black", "fillColor": "white", "strokeColor": "#262626", "labelExpr": "datum.label === 'A' ? 'Arábica' : datum.label === 'C' ? 'Canefora' : 'Limiar'"}},
               "strokeDash": {"field": "classe", "type": "nominal", "scale": {"domain": ["A", "C", "L"], "range": [[1, 0], [1, 0], [16, 22]]},
                 "legend": {"orient": "none", "legendX": 99, "legendY": 526, "title": null, "columns": 1, "clipHeight": 19, "rowPadding": 3.5, "padding": 5, "labelOffset": 7, "symbolOffset": 2, "labelFontSize": 17, "labelFont": "Liberation Sans", "labelColor": "black", "fillColor": "white", "strokeColor": "#262626", "labelExpr": "datum.label === 'A' ? 'Arábica' : datum.label === 'C' ? 'Canefora' : 'Limiar'"}}
             }},
            {"data": {"values": [{"limiar": 0.5}]},
             "mark": {"type": "rule", "color": "#555555", "strokeWidth": 1, "strokeDash": [25, 15]},
             "encoding": {"y": {"field": "limiar", "type": "quantitative", "axis": {"orient": "right", "labels": false, "title": null, "values": [-0.4, -0.2, 0, 0.2, 0.4, 0.6, 0.8, 1, 1.2, 1.4]}}}},
            {"data": {"values": [{"limiar": 153.3}]},
             "mark": {"type": "rule", "color": "#555555", "strokeWidth": 1, "strokeDash": [25, 15]},
             "encoding": {"x": {"field": "limiar", "type": "quantitative", "axis": {"orient": "top", "labels": false, "title": null, "values": [0, 50, 100, 150, 200, 250]}}}}
          ],
          "resolve": {"axis": {"x": "independent", "y": "independent"}}
        }
      ]
    }
  ],
  "spacing": 61,
  "resolve": {"scale": {"color": "independent", "shape": "independent", "size": "independent", "strokeDash": "independent"}, "legend": {"color": "independent", "shape": "independent", "size": "independent", "strokeDash": "independent"}},
  "config": {
    "font": "Liberation Sans",
    "view": {"stroke": "#262626", "strokeWidth": 1},
    "axis": {"grid": false, "domainColor": "#262626", "domainWidth": 1, "tickColor": "#262626", "tickSize": -6, "tickWidth": 1, "labelColor": "#262626", "labelFont": "Liberation Sans", "labelFontSize": 18, "labelFlush": false, "titleColor": "#262626", "titleFont": "Liberation Sans", "titleFontSize": 21, "titleFontWeight": "normal"},
    "axisX": {"labelPadding": 17.5, "titlePadding": 10.5},
    "axisY": {"labelPadding": 14, "titlePadding": 10.5},
    "title": {"font": "Liberation Sans", "fontSize": 21, "fontWeight": "bold", "color": "black", "offset": -2}
  }
}
